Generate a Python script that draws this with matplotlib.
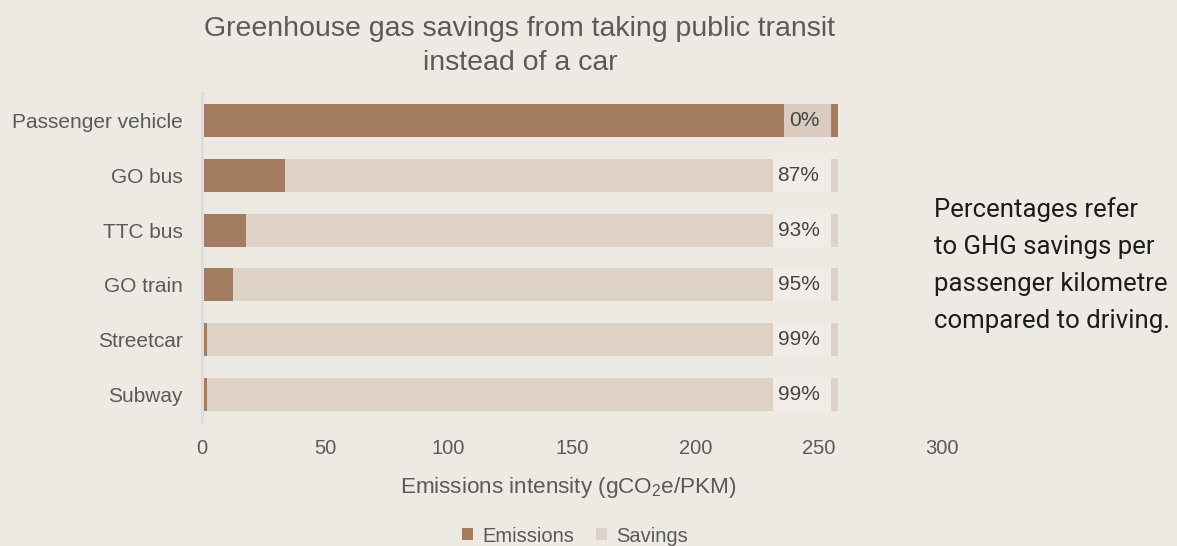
import matplotlib
matplotlib.use("Agg")
import matplotlib.pyplot as plt
from matplotlib.patches import Patch, Rectangle

# Emissions intensity by mode (gCO2e per passenger kilometre)
modes = ["Passenger vehicle", "GO bus", "TTC bus", "GO train", "Streetcar", "Subway"]
emissions = [258.0, 33.6, 18.0, 12.5, 2.0, 2.0]
savings = [0.0, 224.4, 240.0, 245.5, 256.0, 256.0]
x_ticks = [0, 50, 100, 150, 200, 250, 300]

BG = "#ede9e3"
EMIS = "#a47d61"
SAVE = "#ded2c6"
GREY_TXT = "#5a5a5a"

plt.rcParams["font.family"] = ["Liberation Sans", "DejaVu Sans"]
plt.rcParams["mathtext.default"] = "regular"

W, H = 1177, 546
fig = plt.figure(figsize=(W / 100, H / 100), dpi=100, facecolor=BG)
ax = fig.add_axes([202 / W, 1 - 422 / H, (942 - 202) / W, (422 - 93) / H])
ax.set_facecolor(BG)

ypos = list(range(len(modes)))
bar_h = 0.6
ax.barh(ypos, emissions, height=bar_h, color=EMIS, zorder=2)
ax.barh(ypos, savings, left=emissions, height=bar_h, color=SAVE, zorder=2)

ax.set_xlim(0, 300)
ax.set_ylim(len(modes) - 0.5, -0.5)
ax.set_yticks(ypos)
ax.set_yticklabels(modes)
ax.set_xticks(x_ticks)
ax.tick_params(axis="y", length=0, pad=14, labelsize=15, labelcolor=GREY_TXT)
ax.tick_params(axis="x", length=0, pad=12, labelsize=14.5, labelcolor=GREY_TXT)
for side in ("top", "right", "bottom"):
    ax.spines[side].set_visible(False)
ax.spines["left"].set_color("#dcdcdc")
ax.spines["left"].set_linewidth(2.2)
ax.spines["left"].set_zorder(3)

# Savings percentage labels, inside the end of each bar
texts = []
for i, (e, s) in enumerate(zip(emissions, savings)):
    total = e + s
    pct = round(100 * s / total)
    t = ax.text(total - 7.7, i, f"{pct}%", ha="right", va="center",
                fontsize=15, color="#444444", zorder=5)
    texts.append((t, total, i))

fig.canvas.draw()
renderer = fig.canvas.get_renderer()
inv = ax.transData.inverted()
for t, total, i in texts:
    bb = t.get_window_extent(renderer)
    left = inv.transform((bb.x0 - 5, 0))[0]
    right = total - 2.8
    ax.add_patch(Rectangle((left, i - bar_h / 2), right - left, bar_h,
                           facecolor="white", alpha=0.6, edgecolor="none", zorder=4))

# Title
fig.text(520 / W, 1 - 36 / H, "Greenhouse gas savings from taking public transit",
         ha="center", va="baseline", fontsize=20.5, color=GREY_TXT)
fig.text(520 / W, 1 - 70 / H, "instead of a car",
         ha="center", va="baseline", fontsize=20.5, color=GREY_TXT)

# Axis title
fig.text(568 / W, 1 - 493 / H, "Emissions intensity (gCO$_2$e/PKM)",
         ha="center", va="baseline", fontsize=16.2, color=GREY_TXT)

# Side note
note = ["Percentages refer", "to GHG savings per", "passenger kilometre",
        "compared to driving."]
for k, line in enumerate(note):
    fig.text(934 / W, 1 - (217 + 37 * k) / H, line, ha="left", va="baseline",
             fontsize=18.5, color="#1c1c1c", family=["Roboto", "DejaVu Sans"])

# Legend
handles = [Patch(facecolor=EMIS, edgecolor="none", label="Emissions"),
           Patch(facecolor=SAVE, edgecolor="none", label="Savings")]
leg = fig.legend(handles=handles, loc="center", bbox_to_anchor=(575 / W, 1 - 536 / H),
                 ncol=2, frameon=False, fontsize=14.5, handlelength=0.55,
                 handleheight=0.55, handletextpad=0.45, columnspacing=1.1)
for txt in leg.get_texts():
    txt.set_color(GREY_TXT)

fig.savefig("out.png", dpi=100, facecolor=BG)
